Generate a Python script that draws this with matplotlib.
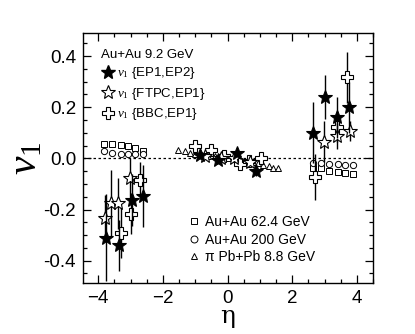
import matplotlib

matplotlib.use("Agg")
import matplotlib.pyplot as plt  # noqa: E402
from matplotlib.lines import Line2D  # noqa: E402
from matplotlib.ticker import FormatStrFormatter, MultipleLocator  # noqa: E402

plt.rcParams["font.family"] = ["Liberation Sans", "DejaVu Sans"]
plt.rcParams["mathtext.fontset"] = "custom"
plt.rcParams["mathtext.it"] = "Liberation Serif:italic"
plt.rcParams["mathtext.rm"] = "Liberation Serif"

# Au+Au 9.2 GeV, v1{EP1,EP2} (filled stars)
ep_eta = [-3.76, -3.35, -2.97, -2.61, -0.85, -0.29, 0.30, 0.87, 2.65, 3.02, 3.38, 3.77]
ep_v1 = [-0.31, -0.34, -0.163, -0.147, 0.013, -0.005, 0.022, -0.05, 0.10, 0.24, 0.16, 0.20]
ep_err = [0.17, 0.10, 0.10, 0.12, 0.015, 0.012, 0.015, 0.02, 0.12, 0.085, 0.08, 0.10]

# v1{FTPC,EP1} (open stars)
ftpc_eta = [-3.80, -3.59, -3.38, -3.02, -0.70, -0.20, 0.20, 0.70, 2.98, 3.39, 3.80]
ftpc_v1 = [-0.235, -0.176, -0.176, -0.078, 0.010, 0.000, 0.002, -0.015, 0.065, 0.087, 0.107]
ftpc_err = [0.09, 0.13, 0.10, 0.08, 0.01, 0.01, 0.01, 0.01, 0.08, 0.05, 0.04]

# v1{BBC,EP1} (open crosses)
bbc_eta = [-3.30, -3.00, -2.70, -1.01, -0.52, -0.10, 0.38, 0.65, 1.02, 2.71, 3.38, 3.69]
bbc_v1 = [-0.29, -0.217, -0.083, 0.048, 0.034, 0.010, -0.022, -0.010, 0.000, -0.074, 0.124, 0.317]
bbc_err = [0.10, 0.08, 0.07, 0.01, 0.01, 0.01, 0.01, 0.01, 0.01, 0.09, 0.06, 0.10]

# Au+Au 62.4 GeV (squares)
sq_eta = [-3.83, -3.56, -3.31, -3.07, -2.87, -2.63, 2.65, 2.89, 3.15, 3.40, 3.63, 3.89]
sq_v1 = [0.056, 0.056, 0.052, 0.048, 0.039, 0.030, -0.037, -0.039, -0.048, -0.052, -0.059, -0.063]

# Au+Au 200 GeV (circles)
ci_eta = [-3.83, -3.56, -3.31, -3.07, -2.87, -2.63, 2.65, 2.89, 3.15, 3.40, 3.63, 3.89]
ci_v1 = [0.030, 0.022, 0.019, 0.017, 0.016, 0.017, -0.017, -0.020, -0.021, -0.023, -0.024, -0.025]

# pi Pb+Pb 8.8 GeV (triangles)
tr_eta = [-1.53, -1.32, -1.17, -1.0, -0.8, -0.6, -0.4, -0.2, 0.0, 0.2, 0.4, 0.6, 0.8, 0.95, 1.10, 1.27, 1.42, 1.57]
tr_v1 = [0.032, 0.027, 0.022, 0.018, 0.014, 0.011, 0.008, 0.004, 0.000, -0.004, -0.008, -0.012, -0.016, -0.020, -0.026, -0.030, -0.036, -0.039]

fig = plt.figure(figsize=(4.15, 3.34), dpi=100)
ax = fig.add_axes([0.2, 0.153, 0.699, 0.748])

ax.axhline(0, color="black", lw=0.9, ls=(0, (2, 2)), zorder=1)

small = dict(ls="none", mfc="white", mec="black", mew=0.7, ms=4.5, zorder=2)
ax.plot(sq_eta, sq_v1, marker="s", **small)
ax.plot(ci_eta, ci_v1, marker="o", **small)
ax.plot(tr_eta, tr_v1, marker="^", **small)

ax.errorbar(bbc_eta, bbc_v1, yerr=bbc_err, fmt="P", ms=8.5, mfc="white", mec="black",
            mew=0.8, ecolor="black", elinewidth=1.0, capsize=0, zorder=3)
ax.errorbar(ftpc_eta, ftpc_v1, yerr=ftpc_err, fmt="*", ms=10.5, mfc="white", mec="black",
            mew=0.8, ecolor="black", elinewidth=1.0, capsize=0, zorder=4)
ax.errorbar(ep_eta, ep_v1, yerr=ep_err, fmt="*", ms=10.5, mfc="black", mec="black",
            mew=0.8, ecolor="black", elinewidth=1.0, capsize=0, zorder=5)

ax.set_xlim(-4.47, 4.5)
ax.set_ylim(-0.487, 0.49)
ax.xaxis.set_major_locator(MultipleLocator(2))
ax.xaxis.set_minor_locator(MultipleLocator(0.5))
ax.yaxis.set_major_locator(MultipleLocator(0.2))
ax.yaxis.set_minor_locator(MultipleLocator(0.05))
ax.yaxis.set_major_formatter(FormatStrFormatter("%.1f"))
ax.tick_params(which="both", direction="in", top=True, right=True, labelsize=13.5, width=0.9)
ax.tick_params(which="major", length=6, pad=5)
ax.tick_params(which="minor", length=3)
for s in ax.spines.values():
    s.set_linewidth(1.0)

ax.set_xlabel("η", fontsize=18, family="DejaVu Serif", labelpad=-1)
ax.set_ylabel(r"$\mathit{v}_{\mathit{1}}$", fontsize=30, labelpad=-1)

h1 = [
    Line2D([], [], ls="none", marker="*", ms=10, mfc="black", mec="black"),
    Line2D([], [], ls="none", marker="*", ms=10, mfc="white", mec="black", mew=0.8),
    Line2D([], [], ls="none", marker="P", ms=8, mfc="white", mec="black", mew=0.8),
]
l1 = [r"$\mathit{v}_{\mathit{1}}$ {EP1,EP2}", r"$\mathit{v}_{\mathit{1}}$ {FTPC,EP1}",
      r"$\mathit{v}_{\mathit{1}}$ {BBC,EP1}"]
leg1 = ax.legend(h1, l1, title="Au+Au 9.2 GeV", loc="upper left", bbox_to_anchor=(0.03, 0.975),
                 frameon=False, fontsize=9.5, title_fontsize=9.5, handletextpad=0.1,
                 handlelength=1.1, labelspacing=0.35, borderaxespad=0.3)
leg1._legend_box.align = "left"
ax.add_artist(leg1)

h2 = [
    Line2D([], [], ls="none", marker="s", ms=5, mfc="white", mec="black", mew=0.7),
    Line2D([], [], ls="none", marker="o", ms=5, mfc="white", mec="black", mew=0.7),
    Line2D([], [], ls="none", marker="^", ms=5, mfc="white", mec="black", mew=0.7),
]
l2 = ["Au+Au 62.4 GeV", "Au+Au 200 GeV", "π Pb+Pb 8.8 GeV"]
ax.legend(h2, l2, loc="lower left", bbox_to_anchor=(0.315, 0.025), frameon=False,
          fontsize=10, handletextpad=0.3, handlelength=1.0, labelspacing=0.25)

fig.savefig("out.png", dpi=100)
